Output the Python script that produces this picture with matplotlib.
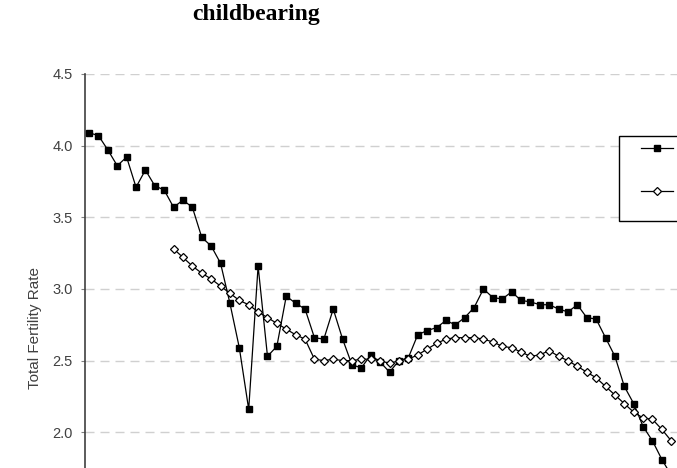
import numpy as np
import matplotlib.pyplot as plt
from matplotlib.patches import Rectangle

# Period total fertility rate (filled squares), one value per year
period_tfr = [4.09, 4.07, 3.97, 3.86, 3.92, 3.71, 3.83, 3.72, 3.69, 3.57, 3.62,
              3.57, 3.36, 3.30, 3.18, 2.90, 2.59, 2.16, 3.16, 2.53, 2.60,
              2.95, 2.90, 2.86, 2.66, 2.65, 2.86, 2.65, 2.47, 2.45, 2.54,
              2.49, 2.42, 2.50, 2.52, 2.68, 2.71, 2.73, 2.78, 2.75, 2.80,
              2.87, 3.00, 2.94, 2.93, 2.98, 2.92, 2.91, 2.89, 2.89, 2.86,
              2.84, 2.89, 2.80, 2.79, 2.66, 2.53, 2.32, 2.20, 2.04, 1.94,
              1.81, 1.70]

# Second series (open diamonds), starts 9 years later
cohort_start = 9
cohort_tfr = [3.28, 3.22, 3.16, 3.11, 3.07, 3.02, 2.97, 2.92, 2.89, 2.84, 2.80,
              2.76, 2.72, 2.68, 2.65, 2.51, 2.50, 2.51, 2.50, 2.50, 2.51,
              2.51, 2.50, 2.48, 2.50, 2.51, 2.54, 2.58, 2.62, 2.65, 2.66,
              2.66, 2.66, 2.65, 2.63, 2.60, 2.59, 2.56, 2.53, 2.54, 2.57,
              2.53, 2.50, 2.46, 2.42, 2.38, 2.32, 2.26, 2.20, 2.14, 2.10,
              2.09, 2.02, 1.94]

y_ticks = [2.0, 2.5, 3.0, 3.5, 4.0, 4.5]

x_period = np.arange(len(period_tfr))
x_cohort = np.arange(cohort_start, cohort_start + len(cohort_tfr))

plt.rcParams['font.family'] = ['Liberation Sans', 'DejaVu Sans']

fig = plt.figure(figsize=(6.77, 4.68), dpi=100)
# the reference only shows the top-left part of the chart, so the axes run off the canvas
ax = fig.add_axes([0.1256, -0.2299, 0.9769, 1.0718])

sq_line, = ax.plot(x_period, period_tfr, color='black', lw=0.9, marker='s', ms=5,
                   mfc='black', mec='black', zorder=3)
dm_line, = ax.plot(x_cohort, cohort_tfr, color='black', lw=0.9, marker='D', ms=4.2,
                   mfc='white', mec='black', mew=0.9, zorder=4)

ax.set_xlim(-0.43, 70)
ax.set_ylim(1.0, 4.5)
ax.set_yticks(y_ticks)
ax.set_yticklabels([f"{t:.1f}" for t in y_ticks])
ax.set_xticks([])
ax.grid(axis='y', color='#d0d0d0', lw=1.0, dashes=(6.5, 4.3))
ax.set_axisbelow(True)

for side in ['top', 'right', 'bottom']:
    ax.spines[side].set_visible(False)
ax.spines['left'].set_color('#404040')
ax.spines['left'].set_linewidth(1.2)
ax.tick_params(axis='y', length=3, width=0.8, color='#808080', pad=6,
               labelsize=10.5, labelcolor='#404040')

ax.set_ylabel('Total Fertility Rate', fontsize=11, color='#404040')
ax.yaxis.set_label_coords(-0.065, 0.494)

# legend frame drawn separately so the padding can match the original box
# (the legend's labels fall outside the cropped picture, so only the keys show)
frame = Rectangle((0.8075, 0.7069), 0.4, 0.1695, transform=ax.transAxes,
                  facecolor='white', edgecolor='black', lw=1.0, zorder=5)
ax.add_patch(frame)
leg = ax.legend([sq_line, dm_line], ['', ''], loc='upper left',
                bbox_to_anchor=(0.8408, 0.8644), frameon=False,
                borderpad=0, borderaxespad=0, handlelength=2.3,
                labelspacing=2.1, fontsize=10)
leg.set_zorder(6)

fig.text(0.378, 0.970, 'childbearing', ha='center', va='center',
         fontsize=17, fontweight='bold', family=['Liberation Serif', 'DejaVu Serif'])

fig.savefig('out.png', dpi=100)
